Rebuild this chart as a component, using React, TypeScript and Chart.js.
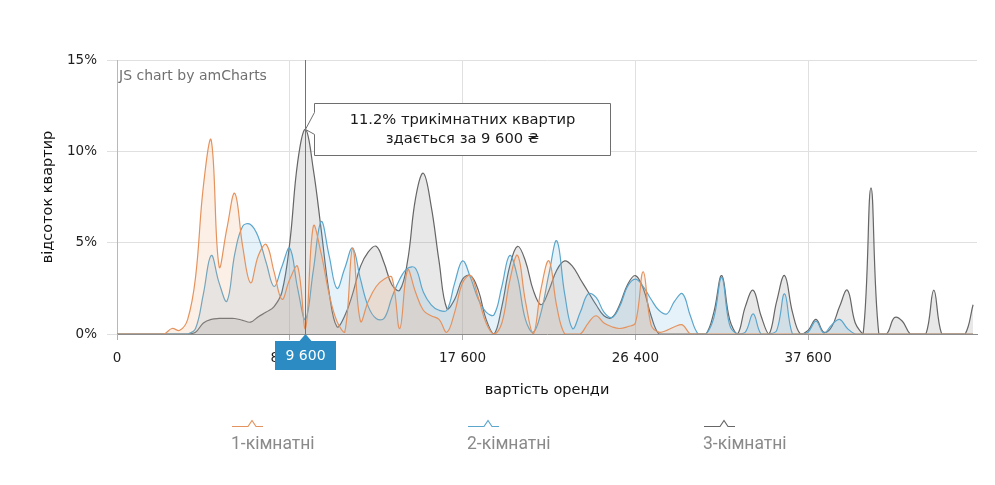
import React, { useEffect, useRef } from 'react';
import { Chart, registerables } from 'chart.js';

Chart.register(...registerables);

// rent price categories (UAH), one per data point
const rentPrices = [
  0, 400, 800, 1200, 1600, 2000, 2400, 2800, 3200, 3600,
  4000, 4400, 4800, 5200, 5600, 6000, 6400, 6800, 7200, 7600,
  8000, 8400, 8800, 9200, 9600, 10000, 10400, 10800, 11200, 11600,
  12000, 12400, 12800, 13200, 13600, 14000, 14400, 14800, 15200, 15600,
  16000, 16400, 16800, 17200, 17600, 18000, 18400, 18800, 19200, 19600,
  20000, 20400, 20800, 21200, 21600, 22000, 22400, 22800, 23200, 23600,
  24000, 24400, 24800, 25200, 25600, 26000, 26400, 26800, 27200, 27600,
  28000, 28400, 28800, 29200, 29600, 30000, 30400, 30800, 31200, 31600,
  32000, 32400, 32800, 33600, 34400, 35200, 36000, 36800, 37600, 38400,
  39200, 40000, 40800, 41600, 42400, 43200, 44000, 44800, 45600, 46400,
  47200, 48000, 48800, 49600, 50400, 51200, 52000, 52800, 53600, 54400,
];

// share of apartments, %
const oneRoom = [
  0, 0, 0, 0, 0, 0, 0, 0.3, 0.2, 0.8,
  3.1, 8.1, 10.6, 3.7, 5.8, 7.7, 4.8, 2.8, 4.3, 4.9,
  3.4, 1.9, 3.0, 3.7, 0.3, 5.9, 4.4, 2.2, 0.7, 0.1,
  4.7, 0.7, 1.8, 2.6, 3.0, 3.1, 0.3, 3.5, 2.3, 1.3,
  1.0, 0.8, 0.1, 1.2, 2.8, 3.2, 2.0, 0.6, 0, 0.6,
  2.9, 4.3, 1.8, 0, 2.5, 4.0, 1.5, 0, 0, 0,
  0.6, 1.0, 0.6, 0.4, 0.3, 0.4, 0.6, 3.4, 0.5, 0.1,
  0.2, 0.4, 0.5, 0, 0, 0, 0, 0, 0, 0,
  0, 0, 0, 0, 0, 0, 0, 0, 0, 0,
  0, 0, 0, 0, 0, 0, 0, 0, 0, 0,
  0, 0, 0, 0, 0, 0, 0, 0, 0, 0,
];

const twoRoom = [
  0, 0, 0, 0, 0, 0, 0, 0, 0, 0,
  0.3, 2.2, 4.3, 2.8, 1.8, 4.4, 5.9, 6.0, 5.3, 3.9,
  2.6, 3.7, 4.7, 2.5, 0.8, 3.5, 6.15, 4.3, 2.5, 3.6,
  4.7, 3.0, 1.5, 0.85, 0.85, 2.0, 3.0, 3.6, 3.6, 2.3,
  1.6, 1.3, 1.3, 2.8, 4.0, 3.1, 1.9, 1.2, 1.05, 2.6,
  4.3, 3.1, 0.8, 0.1, 1.2, 3.3, 5.1, 2.2, 0.3, 1.2,
  2.2, 2.0, 1.2, 0.9, 1.5, 2.6, 3.0, 2.6, 1.9, 1.3,
  1.1, 1.8, 2.2, 1.0, 0, 0, 0.9, 3.1, 0.5, 0,
  0.1, 1.1, 0, 0, 0.2, 2.2, 0, 0, 0.1, 0.7,
  0.05, 0.5, 0.8, 0.3, 0, 0, 0, 0, 0, 0,
  0, 0, 0, 0, 0, 0, 0, 0, 0, 0,
];

const threeRoom = [
  0, 0, 0, 0, 0, 0, 0, 0, 0, 0,
  0.1, 0.6, 0.8, 0.85, 0.85, 0.85, 0.75, 0.65, 0.95, 1.2,
  1.5, 2.3, 5.0, 9.4, 11.2, 9.0, 5.7, 2.3, 0.4, 1.0,
  2.2, 3.7, 4.5, 4.8, 3.9, 2.7, 2.4, 4.0, 7.4, 8.8,
  7.0, 4.0, 1.4, 1.9, 3.0, 3.2, 2.4, 0.8, 0, 1.5,
  3.7, 4.8, 4.0, 2.4, 1.6, 2.4, 3.5, 4.0, 3.7, 3.0,
  2.3, 1.6, 1.0, 0.9, 1.6, 2.7, 3.2, 2.5, 1.0, 0,
  0, 0, 0, 0, 0, 0, 1.2, 3.2, 0.8, 0,
  1.5, 2.4, 1.0, 0, 1.8, 3.2, 1.2, 0, 0.2, 0.8,
  0.1, 0.4, 1.5, 2.4, 0.6, 0, 8.0, 0, 0, 0.9,
  0.7, 0, 0, 0, 2.4, 0, 0, 0, 0, 1.6,
];

const seriesNames = ['1-кімнатні', '2-кімнатні', '3-кімнатні'];
const seriesColors = ['#e5935e', '#5ca6cc', '#666666'];
const seriesFills = ['rgba(240,160,105,0.17)', 'rgba(105,178,220,0.17)', 'rgba(110,110,110,0.16)'];
const yTickLabels = ['0%', '5%', '10%', '15%'];
const labelEvery = 22;
const cursorIndex = 24;

const fmt = (n: number) => String(n).replace(/\B(?=(\d{3})+(?!\d))/g, ' ');
const toPoints = (arr: number[]) => arr.map((v, i) => ({ x: i, y: v }));

const overlayPlugin = {
  id: 'overlay',
  afterDraw(chart: any) {
    const { ctx, chartArea, scales } = chart;
    const xs = scales.x;
    const ys = scales.y;
    ctx.save();

    // credit text
    ctx.font = '14px "DejaVu Sans"';
    ctx.fillStyle = '#707070';
    ctx.textAlign = 'left';
    ctx.textBaseline = 'middle';
    ctx.fillText('JS chart by amCharts', chartArea.left + 2, chartArea.top + 16);

    // cursor line
    const cx = Math.round(xs.getPixelForValue(cursorIndex)) + 0.5;
    ctx.strokeStyle = '#2e89b8';
    ctx.lineWidth = 1;
    ctx.beginPath();
    ctx.moveTo(cx, chartArea.top);
    ctx.lineTo(cx, chartArea.bottom);
    ctx.stroke();

    // cursor category label
    const bw = 61, bTop = chartArea.bottom + 7, bH = 29;
    ctx.fillStyle = '#2b8bc2';
    ctx.beginPath();
    ctx.moveTo(cx - bw / 2, bTop);
    ctx.lineTo(cx - 6, bTop);
    ctx.lineTo(cx, chartArea.bottom);
    ctx.lineTo(cx + 6, bTop);
    ctx.lineTo(cx + bw / 2, bTop);
    ctx.lineTo(cx + bw / 2, bTop + bH);
    ctx.lineTo(cx - bw / 2, bTop + bH);
    ctx.closePath();
    ctx.fill();
    ctx.fillStyle = '#ffffff';
    ctx.font = '14px "DejaVu Sans"';
    ctx.textAlign = 'center';
    ctx.fillText(fmt(rentPrices[cursorIndex]), cx, bTop + bH / 2 + 1);

    // balloon
    const tx = xs.getPixelForValue(cursorIndex);
    const ty = ys.getPixelForValue(threeRoom[cursorIndex]);
    const left = Math.round(tx + 9) + 0.5;
    const right = left + 296;
    const top = Math.round(ty - 26) + 0.5;
    const bottom = top + 52;
    ctx.fillStyle = '#ffffff';
    ctx.strokeStyle = '#6e6e6e';
    ctx.lineWidth = 1;
    ctx.beginPath();
    ctx.moveTo(left, top);
    ctx.lineTo(right, top);
    ctx.lineTo(right, bottom);
    ctx.lineTo(left, bottom);
    ctx.lineTo(left, ty + 5);
    ctx.lineTo(tx, ty);
    ctx.lineTo(left, ty - 17);
    ctx.closePath();
    ctx.fill();
    ctx.stroke();
    ctx.fillStyle = '#1a1a1a';
    ctx.font = '14.7px "DejaVu Sans"';
    ctx.textAlign = 'center';
    ctx.textBaseline = 'middle';
    const mid = (left + right) / 2;
    ctx.fillText(`${threeRoom[cursorIndex]}% трикімнатних квартир`, mid, top + 17);
    ctx.fillText(`здається за ${fmt(rentPrices[cursorIndex])} ₴`, mid, top + 35.5);

    // legend
    const legendX = [232, 468, 704];
    seriesNames.forEach((name, k) => {
      const lx = legendX[k];
      const ly = 426.5;
      ctx.strokeStyle = seriesColors[k];
      ctx.lineWidth = 1.2;
      ctx.beginPath();
      ctx.moveTo(lx, ly);
      ctx.lineTo(lx + 16, ly);
      ctx.lineTo(lx + 20, ly - 6);
      ctx.lineTo(lx + 24, ly);
      ctx.lineTo(lx + 31, ly);
      ctx.stroke();
      ctx.fillStyle = '#8a8a8a';
      ctx.font = '17.5px Roboto';
      ctx.textAlign = 'left';
      ctx.textBaseline = 'middle';
      ctx.fillText(name, lx - 1, 445);
    });

    ctx.restore();
  },
};

export default function App() {
  const canvasRef = useRef<HTMLCanvasElement | null>(null);

  useEffect(() => {
    if (!canvasRef.current) return;
    const series = [oneRoom, twoRoom, threeRoom];
    const chart = new Chart(canvasRef.current, {
      type: 'line',
      data: {
        datasets: series.map((s, k) => ({
          label: seriesNames[k],
          data: toPoints(s),
          borderColor: seriesColors[k],
          backgroundColor: seriesFills[k],
          borderWidth: 1.2,
          fill: 'origin',
          tension: 0.4,
          pointRadius: 0,
        })),
      },
      options: {
        responsive: false,
        animation: false,
        layout: { padding: { top: 60, right: 18, left: 0, bottom: 0 } },
        plugins: { legend: { display: false }, tooltip: { enabled: false } },
        scales: {
          x: {
            type: 'linear',
            min: 0,
            max: 109.5,
            afterFit: (s: any) => { s.height = 151; },
            ticks: {
              stepSize: labelEvery,
              includeBounds: false,
              autoSkip: false,
              maxRotation: 0,
              padding: 10,
              color: '#1e1e1e',
              font: { family: 'DejaVu Sans', size: 13.5 },
              callback: (v: any) => (Number.isInteger(v) && rentPrices[v] !== undefined ? fmt(rentPrices[v]) : ''),
            },
            grid: { color: '#e0e0e0', tickLength: 6, tickColor: '#b0b0b0' },
            border: { color: '#8c8c8c' },
            title: {
              display: true,
              text: 'вартість оренди',
              color: '#111',
              font: { family: 'DejaVu Sans', size: 14.5 },
              padding: { top: 0, bottom: 86 },
            },
          },
          y: {
            min: 0,
            max: 15,
            afterFit: (s: any) => { s.width = 117; },
            ticks: {
              stepSize: 5,
              padding: 10,
              color: '#1e1e1e',
              font: { family: 'DejaVu Sans', size: 13.5 },
              callback: (v: any) => yTickLabels[Math.round(v / 5)] ?? '',
            },
            grid: { color: '#e0e0e0', tickLength: 10 },
            border: { color: '#b8b8b8' },
            title: {
              display: true,
              text: 'відсоток квартир',
              color: '#111',
              font: { family: 'DejaVu Sans', size: 14.5 },
              padding: { top: 40, bottom: 0 },
            },
          },
        },
      },
      plugins: [overlayPlugin],
    });
    return () => chart.destroy();
  }, []);

  return (
    <div style={{ position: 'absolute', left: 0, top: 0, width: 995, height: 485, background: '#fff' }}>
      <canvas ref={canvasRef} width={995} height={485} />
    </div>
  );
}
